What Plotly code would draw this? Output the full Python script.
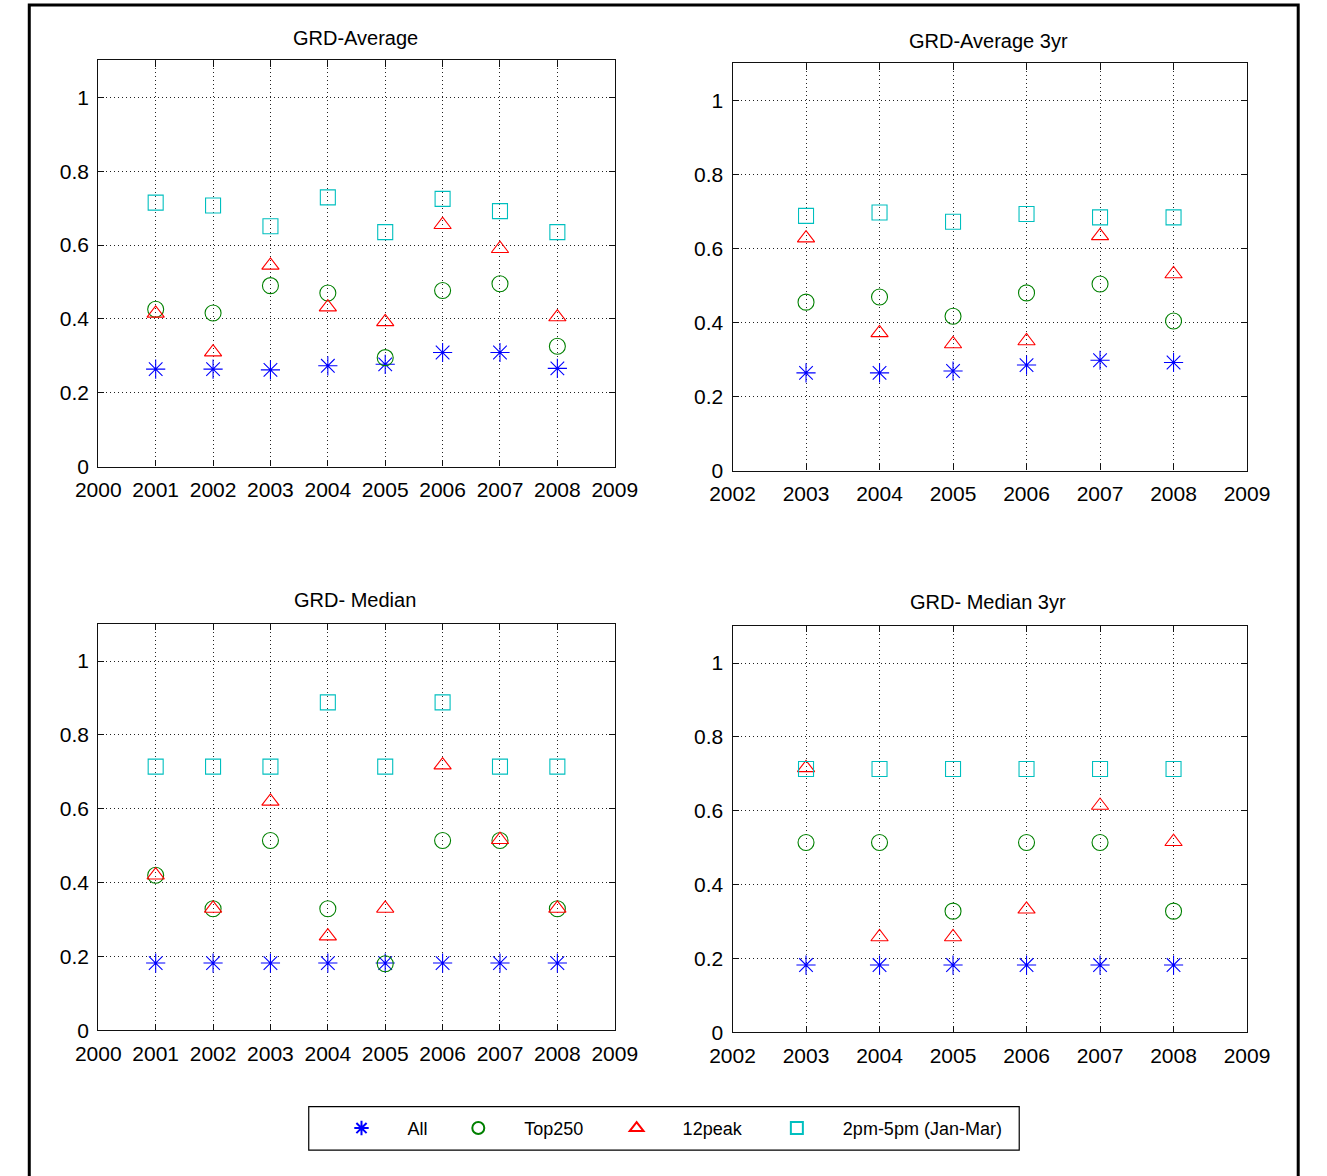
import plotly.graph_objects as go

# ---- data -------------------------------------------------------------
years_all = [2001, 2002, 2003, 2004, 2005, 2006, 2007, 2008]
years_3yr = [2003, 2004, 2005, 2006, 2007, 2008]

series_names = ["All", "Top250", "12peak", "2pm-5pm (Jan-Mar)"]

# GRD-Average
avg_all = [0.264, 0.264, 0.262, 0.273, 0.277, 0.309, 0.309, 0.266]
avg_top250 = [0.426, 0.416, 0.490, 0.470, 0.295, 0.477, 0.495, 0.326]
avg_12peak = [0.415, 0.310, 0.545, 0.432, 0.392, 0.655, 0.590, 0.405]
avg_2to5 = [0.715, 0.707, 0.651, 0.729, 0.635, 0.725, 0.692, 0.635]

# GRD-Average 3yr
avg3_all = [0.264, 0.264, 0.269, 0.285, 0.298, 0.292]
avg3_top250 = [0.455, 0.469, 0.417, 0.480, 0.504, 0.404]
avg3_12peak = [0.628, 0.372, 0.342, 0.350, 0.634, 0.531]
avg3_2to5 = [0.688, 0.697, 0.672, 0.693, 0.684, 0.684]

# GRD- Median
med_all = [0.182, 0.182, 0.182, 0.182, 0.182, 0.182, 0.182, 0.182]
med_top250 = [0.420, 0.329, 0.514, 0.329, 0.180, 0.514, 0.514, 0.329]
med_12peak = [0.420, 0.330, 0.620, 0.255, 0.330, 0.718, 0.516, 0.330]
med_2to5 = [0.714, 0.714, 0.714, 0.888, 0.714, 0.888, 0.714, 0.714]

# GRD- Median 3yr
med3_all = [0.182, 0.182, 0.182, 0.182, 0.182, 0.182]
med3_top250 = [0.514, 0.514, 0.328, 0.514, 0.514, 0.328]
med3_12peak = [0.716, 0.258, 0.258, 0.333, 0.614, 0.516]
med3_2to5 = [0.713, 0.713, 0.713, 0.713, 0.713, 0.713]

panel_titles = ["GRD-Average", "GRD-Average 3yr", "GRD- Median", "GRD- Median 3yr"]
y_ticks = [0, 0.2, 0.4, 0.6, 0.8, 1.0]
y_tick_text = ["0", "0.2", "0.4", "0.6", "0.8", "1"]

panels = [
    (years_all, [avg_all, avg_top250, avg_12peak, avg_2to5]),
    (years_3yr, [avg3_all, avg3_top250, avg3_12peak, avg3_2to5]),
    (years_all, [med_all, med_top250, med_12peak, med_2to5]),
    (years_3yr, [med3_all, med3_top250, med3_12peak, med3_2to5]),
]

# ---- styling ------------------------------------------------------------
W, H = 1327, 1176
FONT = "Liberation Sans, Arial, sans-serif"

symbols = ["asterisk-open", "circle-open", "triangle-up-open", "square-open"]
colors = ["#0000FF", "#008000", "#FF0000", "#00BFBF"]
sizes = [16, 16, 15, 15]

# panel boxes in pixels: (left, right, top, bottom)
boxes = [
    (78, 613, 61, 471),
    (735, 1268, 64, 475),
    (78, 613, 630, 1040),
    (735, 1268, 632, 1042),
]
x_ranges = [[2000, 2009], [2002, 2009], [2000, 2009], [2002, 2009]]

# title centres in pixels
title_pos = [(344, 38), (1000, 41), (344, 606), (1000, 608)]

# legend marker centres in pixels
legend_marker_x = [349, 470, 634, 800]
legend_y = 1139
legend_itemwidth = 82
legend_keys = ["legend", "legend2", "legend3", "legend4"]

fig = go.Figure()

for p, (xs, ys_list) in enumerate(panels):
    ax = "" if p == 0 else str(p + 1)
    for s, ys in enumerate(ys_list):
        fig.add_trace(go.Scatter(
            x=xs, y=ys, mode="markers",
            name=series_names[s],
            xaxis="x" + ax, yaxis="y" + ax,
            marker=dict(symbol=symbols[s], size=sizes[s], color=colors[s],
                        line=dict(color=colors[s], width=1.1)),
            showlegend=(p == 0),
            legend=legend_keys[s],
            hoverinfo="x+y+name",
        ))

layout = dict(
    width=W, height=H,
    margin=dict(l=0, r=0, t=0, b=0),
    paper_bgcolor="white", plot_bgcolor="white",
    font=dict(family=FONT, color="black", size=20),
    annotations=[],
    shapes=[],
)

for p in range(4):
    l, r, t, b = boxes[p]
    ax = "" if p == 0 else str(p + 1)
    common = dict(
        showline=True, linecolor="#111", linewidth=1.2, mirror="ticks",
        ticks="inside", ticklen=6, tickcolor="#111", tickwidth=1,
        showgrid=True, gridcolor="#222", gridwidth=1, griddash="1px,3px",
        zeroline=False, tickfont=dict(family=FONT, size=21, color="black"),
    )
    layout["xaxis" + ax] = dict(
        common, domain=[l / W, r / W], range=x_ranges[p], dtick=1, tick0=2000,
        anchor="y" + ax, ticklabelstandoff=4,
    )
    layout["yaxis" + ax] = dict(
        common, domain=[1 - b / H, 1 - t / H], range=[0, 1.1], tickvals=y_ticks,
        ticktext=y_tick_text, anchor="x" + ax, ticklabelstandoff=4,
    )
    tx, ty = title_pos[p]
    layout["annotations"].append(dict(
        text=panel_titles[p], x=tx / W, y=1 - ty / H, xref="paper", yref="paper",
        xanchor="center", yanchor="middle", showarrow=False,
        font=dict(family=FONT, size=20, color="black"),
    ))

for s, key in enumerate(legend_keys):
    layout[key] = dict(
        x=(legend_marker_x[s] - legend_itemwidth / 2 - 5) / W, y=1 - legend_y / H,
        xanchor="left", yanchor="middle", orientation="h",
        itemwidth=legend_itemwidth, itemsizing="constant",
        bgcolor="rgba(0,0,0,0)", borderwidth=0,
        font=dict(family=FONT, size=18, color="black"),
    )

# legend frame
layout["shapes"].append(dict(
    type="rect", xref="paper", yref="paper",
    x0=296 / W, x1=1032 / W, y0=1 - 1161 / H, y1=1 - 1117 / H,
    line=dict(color="black", width=1.2), fillcolor="rgba(0,0,0,0)", layer="above",
))
# outer figure frame
layout["shapes"].append(dict(
    type="rect", xref="paper", yref="paper",
    x0=6.5 / W, x1=1321 / W, y0=-0.02, y1=1 - 5 / H,
    line=dict(color="black", width=3), fillcolor="rgba(0,0,0,0)", layer="above",
))

fig.update_layout(layout)
fig.write_html("out.html")
